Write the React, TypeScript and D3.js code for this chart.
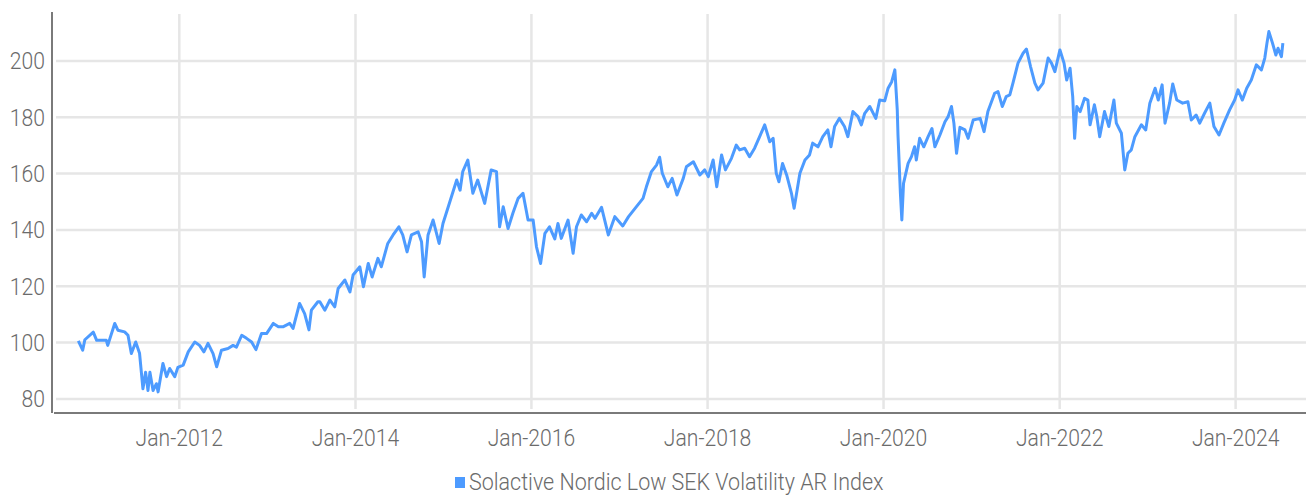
import React, { useEffect, useRef } from "react";
import * as d3 from "d3";

const width = 1306;
const height = 496;

const seriesName = "Solactive Nordic Low SEK Volatility AR Index";

const dates = [
  "2010-11-08", "2010-11-26", "2010-12-05", "2011-01-09", "2011-01-23", "2011-03-04", "2011-03-10",
  "2011-04-08", "2011-04-21", "2011-05-19", "2011-06-02", "2011-06-16", "2011-07-04", "2011-07-20",
  "2011-08-03", "2011-08-14", "2011-08-24", "2011-09-01", "2011-09-14", "2011-09-28", "2011-10-05",
  "2011-10-25", "2011-11-09", "2011-11-22", "2011-12-13", "2011-12-26", "2012-01-17", "2012-02-07",
  "2012-03-05", "2012-03-25", "2012-04-12", "2012-04-29", "2012-05-20", "2012-06-04", "2012-06-24",
  "2012-07-21", "2012-08-11", "2012-08-25", "2012-09-16", "2012-10-06", "2012-10-27", "2012-11-14",
  "2012-12-07", "2012-12-28", "2013-01-25", "2013-02-15", "2013-03-06", "2013-04-03", "2013-04-17",
  "2013-05-14", "2013-06-04", "2013-06-22", "2013-07-02", "2013-07-29", "2013-08-06", "2013-08-27",
  "2013-09-17", "2013-10-07", "2013-10-21", "2013-11-18", "2013-12-09", "2013-12-22", "2014-01-19",
  "2014-02-03", "2014-02-23", "2014-03-11", "2014-04-04", "2014-04-18", "2014-05-15", "2014-06-06",
  "2014-06-30", "2014-07-16", "2014-08-03", "2014-08-21", "2014-09-18", "2014-10-02", "2014-10-13",
  "2014-10-29", "2014-11-19", "2014-12-14", "2014-12-30", "2015-01-21", "2015-02-25", "2015-03-11",
  "2015-03-22", "2015-04-12", "2015-05-03", "2015-05-23", "2015-06-21", "2015-07-18", "2015-08-09",
  "2015-08-22", "2015-09-06", "2015-09-26", "2015-10-16", "2015-11-07", "2015-11-27", "2015-12-18",
  "2016-01-08", "2016-01-22", "2016-02-08", "2016-02-26", "2016-03-16", "2016-04-07", "2016-04-20",
  "2016-05-04", "2016-06-01", "2016-06-22", "2016-07-06", "2016-07-26", "2016-08-17", "2016-09-07",
  "2016-09-21", "2016-10-18", "2016-11-15", "2016-12-12", "2017-01-14", "2017-02-07", "2017-03-11",
  "2017-04-08", "2017-04-22", "2017-05-13", "2017-06-03", "2017-06-16", "2017-06-27", "2017-07-20",
  "2017-08-07", "2017-08-27", "2017-09-22", "2017-10-05", "2017-11-03", "2017-11-30", "2017-12-20",
  "2018-01-04", "2018-01-24", "2018-02-08", "2018-02-28", "2018-03-16", "2018-04-10", "2018-04-30",
  "2018-05-14", "2018-06-04", "2018-06-24", "2018-07-15", "2018-08-05", "2018-08-26", "2018-09-16",
  "2018-09-30", "2018-10-13", "2018-10-24", "2018-11-08", "2018-11-25", "2018-12-15", "2018-12-26",
  "2019-01-19", "2019-02-09", "2019-02-28", "2019-03-13", "2019-04-04", "2019-04-24", "2019-05-15",
  "2019-05-28", "2019-06-12", "2019-07-02", "2019-07-23", "2019-08-06", "2019-08-27", "2019-09-17",
  "2019-10-01", "2019-10-15", "2019-11-05", "2019-11-30", "2019-12-16", "2020-01-06", "2020-01-20",
  "2020-02-04", "2020-02-17", "2020-02-27", "2020-03-01", "2020-03-11", "2020-03-17", "2020-03-24",
  "2020-04-12", "2020-04-26", "2020-05-09", "2020-05-16", "2020-05-30", "2020-06-16", "2020-07-04",
  "2020-07-20", "2020-08-01", "2020-08-22", "2020-09-12", "2020-09-25", "2020-10-09", "2020-10-19",
  "2020-10-30", "2020-11-13", "2020-12-04", "2020-12-17", "2021-01-07", "2021-02-05", "2021-02-21",
  "2021-03-09", "2021-04-06", "2021-04-20", "2021-05-08", "2021-05-24", "2021-06-08", "2021-06-21",
  "2021-07-12", "2021-08-02", "2021-08-16", "2021-09-02", "2021-09-20", "2021-10-03", "2021-10-24",
  "2021-11-14", "2021-11-28", "2021-12-12", "2022-01-02", "2022-01-19", "2022-01-30", "2022-02-13",
  "2022-02-24", "2022-03-04", "2022-03-13", "2022-03-27", "2022-04-14", "2022-04-28", "2022-05-07",
  "2022-05-25", "2022-06-04", "2022-06-16", "2022-07-06", "2022-07-24", "2022-08-14", "2022-08-24",
  "2022-09-14", "2022-09-28", "2022-10-11", "2022-10-25", "2022-11-09", "2022-12-06", "2022-12-24",
  "2023-01-10", "2023-02-01", "2023-02-14", "2023-03-02", "2023-03-14", "2023-04-02", "2023-04-15",
  "2023-05-02", "2023-05-26", "2023-06-17", "2023-07-01", "2023-07-21", "2023-08-05", "2023-08-25",
  "2023-09-16", "2023-10-03", "2023-10-24", "2023-11-13", "2023-12-07", "2023-12-28", "2024-01-11",
  "2024-01-29", "2024-02-16", "2024-03-06", "2024-03-27", "2024-04-17", "2024-05-01", "2024-05-10",
  "2024-05-18", "2024-06-02", "2024-06-16", "2024-06-25", "2024-07-09", "2024-07-15",
];

const values = [
  100.6, 97.3, 101, 103.7, 100.8, 100.8, 99,
  106.8, 104.4, 103.8, 102.6, 96.1, 100.2, 96.2,
  83.6, 89.5, 83, 89.5, 83, 85.4, 82.5,
  92.6, 87.9, 90.8, 87.9, 91.2, 92, 96.7,
  100.2, 99, 96.7, 99.7, 96.1, 91.4, 97.3,
  97.9, 99, 98.4, 102.6, 101.5, 100.2, 97.5,
  103.2, 103.2, 106.8, 105.6, 105.6, 106.8, 105,
  113.9, 110.3, 104.5, 111.5, 114.5, 114.5, 111.5,
  115.1, 112.7, 119.2, 122.2, 118, 124, 126.9,
  119.8, 128.1, 123.3, 129.9, 126.9, 135.2, 138.2,
  141.1, 138.2, 132.2, 138.2, 139.3, 135.8, 123.3,
  138.2, 143.5, 135.2, 142.3, 148.2, 157.7, 154.1,
  160.7, 164.8, 153, 157.7, 149.4, 161.3, 160.7,
  141.1, 148.2, 140.5, 145.9, 151.2, 153, 143.5,
  143.5, 134, 128.1, 138.8, 141.1, 136.8, 142.3,
  137, 143.5, 131.7, 141.1, 145.3, 142.9, 145.9,
  144.1, 148, 138.2, 144.7, 141.4, 144.7, 148.2,
  151.2, 155.3, 160.7, 163, 165.8, 160.1, 155.3,
  158.3, 152.4, 158.3, 162.4, 164.2, 159.5, 161.3,
  158.9, 164.8, 155.3, 166.6, 161.3, 165.4, 170.1,
  168.4, 169, 166, 169, 173.1, 177.3, 171.3,
  172.5, 160.1, 157.1, 163.6, 159.5, 153, 147.7,
  160.1, 164.8, 166.6, 170.8, 169.5, 173.1, 175.5,
  169.5, 176.7, 179.6, 176.7, 173.1, 182, 180.2,
  177.3, 181.4, 183.8, 179.6, 186.1, 185.8, 190.3,
  192.6, 196.8, 182.6, 173.7, 153, 143.5, 156.5,
  163.6, 166, 169.5, 164.8, 172.5, 169.5, 173.1,
  176, 169.5, 173.7, 178.4, 180.2, 183.8, 177.9,
  167.2, 176.4, 175.5, 172.5, 179, 179.6, 174.9,
  182, 188.5, 189.1, 183.8, 187.3, 187.9, 192.1,
  199.2, 202.7, 204.2, 198, 192.1, 189.7, 192.1,
  201, 199.2, 196.2, 203.9, 199.2, 193.2, 197.4,
  187.3, 172.5, 183.8, 182, 186.7, 186.1, 177.3,
  184.4, 180.2, 173.1, 182, 176.7, 186.1, 177.9,
  174.3, 161.3, 167.2, 168.4, 173.1, 177.3, 175.5,
  185, 190.3, 186.1, 191.5, 177.9, 185, 191.8,
  186.1, 185, 185.5, 179, 180.8, 177.9, 181.4,
  185, 176.7, 173.7, 177.9, 182.6, 186.1, 189.7,
  186.1, 190.3, 193.2, 198.6, 196.8, 201, 206.3,
  210.4, 206.3, 202.1, 204.5, 201.5, 206.3,
];

const yTicks = [80, 100, 120, 140, 160, 180, 200];
const xTicks = ["2012-01-01", "2014-01-01", "2016-01-01", "2018-01-01", "2020-01-01", "2022-01-01", "2024-01-01"];

const font = "Roboto, sans-serif";
const textColor = "#6b6b6b";
const squeeze = 0.88;

const App = () => {
  const chart = useRef<SVGSVGElement>(null);

  useEffect(() => {
    const svg = d3.select(chart.current);
    svg.selectAll("*").remove();

    const parse = d3.timeParse("%Y-%m-%d");
    const data = dates.map((d, i) => ({ date: parse(d) as Date, value: values[i] }));

    const x = d3
      .scaleTime()
      .domain([parse("2010-07-30") as Date, parse("2024-10-19") as Date])
      .range([54, 1306]);
    const y = d3.scaleLinear().domain([75, 217]).range([413, 13]);

    // grid
    svg
      .append("g")
      .selectAll("line")
      .data(yTicks)
      .join("line")
      .attr("x1", 56)
      .attr("x2", width)
      .attr("y1", (d) => y(d))
      .attr("y2", (d) => y(d))
      .attr("stroke", "#e6e6e6")
      .attr("stroke-width", 2.5);

    svg
      .append("g")
      .selectAll("line")
      .data(xTicks)
      .join("line")
      .attr("x1", (d) => x(parse(d) as Date))
      .attr("x2", (d) => x(parse(d) as Date))
      .attr("y1", 14)
      .attr("y2", 409)
      .attr("stroke", "#e6e6e6")
      .attr("stroke-width", 2.5);

    // axes lines
    svg
      .append("line")
      .attr("x1", 52)
      .attr("x2", 52)
      .attr("y1", 12)
      .attr("y2", 413)
      .attr("stroke", "#7a7a7a")
      .attr("stroke-width", 2);
    svg
      .append("line")
      .attr("x1", 54)
      .attr("x2", width)
      .attr("y1", 413)
      .attr("y2", 413)
      .attr("stroke", "#7a7a7a")
      .attr("stroke-width", 2);

    // tick labels
    svg
      .append("g")
      .selectAll("text")
      .data(yTicks)
      .join("text")
      .attr("transform", (d) => `translate(45,${y(d) + 8.5}) scale(${squeeze},1)`)
      .attr("text-anchor", "end")
      .attr("font-family", font)
      .attr("font-weight", 300)
      .attr("font-size", 24)
      .attr("fill", textColor)
      .text((d) => d);

    const fmt = d3.timeFormat("%b-%Y");
    svg
      .append("g")
      .selectAll("text")
      .data(xTicks)
      .join("text")
      .attr("transform", (d) => `translate(${x(parse(d) as Date)},446) scale(${squeeze},1)`)
      .attr("text-anchor", "middle")
      .attr("font-family", font)
      .attr("font-weight", 300)
      .attr("font-size", 24)
      .attr("fill", textColor)
      .text((d) => fmt(parse(d) as Date));

    // line
    const line = d3
      .line<{ date: Date; value: number }>()
      .x((d) => x(d.date))
      .y((d) => y(d.value));

    svg
      .append("path")
      .datum(data)
      .attr("fill", "none")
      .attr("stroke", "#4d9bff")
      .attr("stroke-width", 3)
      .attr("stroke-linejoin", "round")
      .attr("d", line);

    // legend
    svg
      .append("rect")
      .attr("x", 455)
      .attr("y", 477)
      .attr("width", 10)
      .attr("height", 11)
      .attr("fill", "#4d9bff");
    svg
      .append("text")
      .attr("transform", `translate(469,490) scale(${squeeze + 0.015},1)`)
      .attr("font-family", font)
      .attr("font-weight", 300)
      .attr("font-size", 24)
      .attr("fill", textColor)
      .text(seriesName);
  }, []);

  return (
    <svg
      ref={chart}
      width={width}
      height={height}
      style={{ position: "absolute", left: 0, top: 0 }}
    ></svg>
  );
};

export default App;
